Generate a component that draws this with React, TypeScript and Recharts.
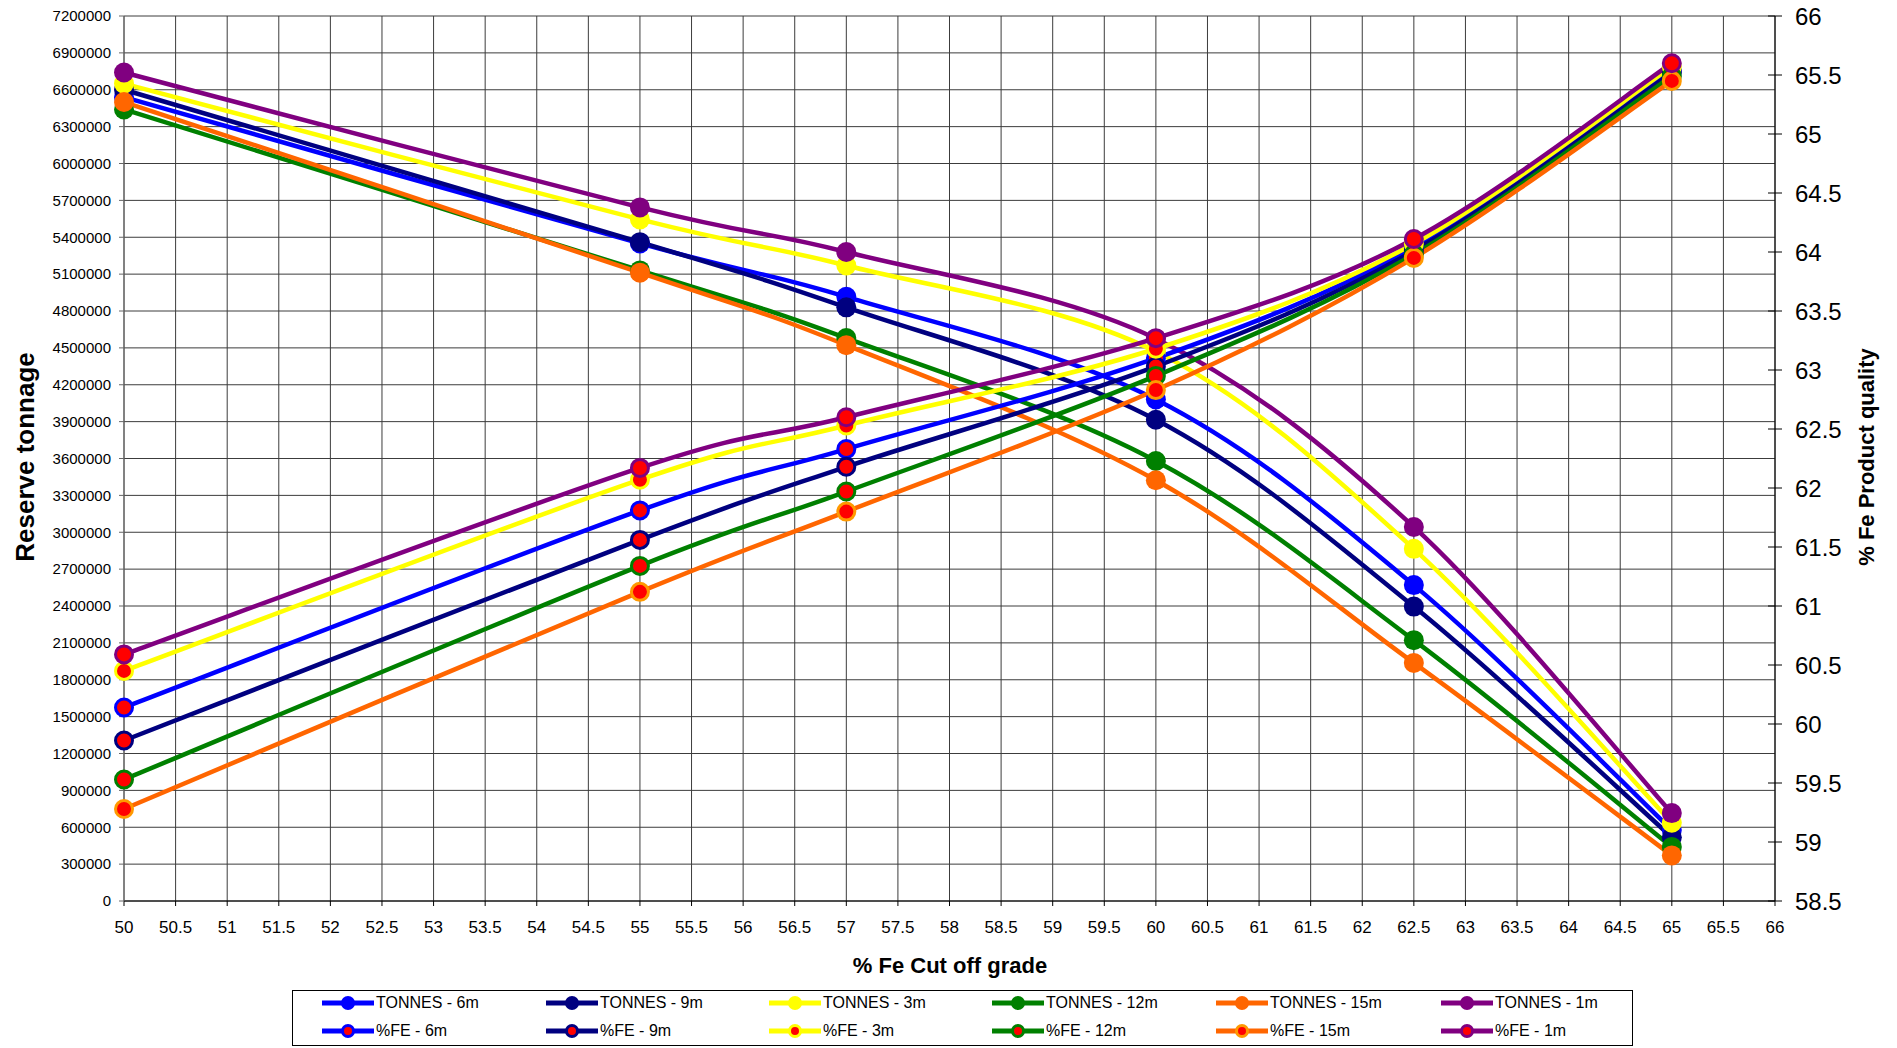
import React from "react";
import { LineChart, Line, XAxis, YAxis, CartesianGrid } from "recharts";

// Cut-off grades (% Fe) at which the reserve was evaluated
const grades = [50, 55, 57, 60, 62.5, 65];

// Reserve tonnage per mining selectivity (left axis)
const tonnes6m = [6540000, 5350000, 4915000, 4080000, 2570000, 577000];
const tonnes9m = [6600000, 5360000, 4830000, 3915000, 2395000, 519000];
const tonnes3m = [6650000, 5545000, 5170000, 4470000, 2865000, 637000];
const tonnes12m = [6440000, 5130000, 4580000, 3580000, 2122000, 440000];
const tonnes15m = [6500000, 5112000, 4522000, 3423000, 1937000, 371000];
const tonnes1m = [6740000, 5643000, 5280000, 4575000, 3043000, 715000];

// Product quality, % Fe (right axis)
const fe6m = [60.14, 61.81, 62.33, 63.1, 64.04, 65.54];
const fe9m = [59.86, 61.56, 62.18, 63.03, 64.01, 65.52];
const fe3m = [60.45, 62.07, 62.53, 63.18, 64.07, 65.57];
const fe12m = [59.53, 61.34, 61.97, 62.95, 63.98, 65.49];
const fe15m = [59.28, 61.12, 61.8, 62.83, 63.95, 65.45];
const fe1m = [60.59, 62.17, 62.6, 63.27, 64.11, 65.6];

// Axis ticks
const xTicks = [
  50, 50.5, 51, 51.5, 52, 52.5, 53, 53.5, 54, 54.5, 55, 55.5, 56, 56.5, 57, 57.5,
  58, 58.5, 59, 59.5, 60, 60.5, 61, 61.5, 62, 62.5, 63, 63.5, 64, 64.5, 65, 65.5, 66,
];
const leftTicks = [
  0, 300000, 600000, 900000, 1200000, 1500000, 1800000, 2100000, 2400000, 2700000,
  3000000, 3300000, 3600000, 3900000, 4200000, 4500000, 4800000, 5100000, 5400000,
  5700000, 6000000, 6300000, 6600000, 6900000, 7200000,
];
const rightTicks = [58.5, 59, 59.5, 60, 60.5, 61, 61.5, 62, 62.5, 63, 63.5, 64, 64.5, 65, 65.5, 66];

const data = grades.map((g, i) => ({
  grade: g,
  t6: tonnes6m[i],
  t9: tonnes9m[i],
  t3: tonnes3m[i],
  t12: tonnes12m[i],
  t15: tonnes15m[i],
  t1: tonnes1m[i],
  f6: fe6m[i],
  f9: fe9m[i],
  f3: fe3m[i],
  f12: fe12m[i],
  f15: fe15m[i],
  f1: fe1m[i],
}));

type SeriesDef = {
  key: string;
  name: string;
  color: string;
  axis: "left" | "right";
  ring?: string;
};

const series: SeriesDef[] = [
  { key: "t6", name: "TONNES - 6m", color: "#0000FF", axis: "left" },
  { key: "t9", name: "TONNES - 9m", color: "#000080", axis: "left" },
  { key: "t3", name: "TONNES - 3m", color: "#FFFF00", axis: "left" },
  { key: "t12", name: "TONNES - 12m", color: "#008000", axis: "left" },
  { key: "t15", name: "TONNES - 15m", color: "#FF6600", axis: "left" },
  { key: "t1", name: "TONNES - 1m", color: "#800080", axis: "left" },
  { key: "f6", name: "%FE - 6m", color: "#0000FF", axis: "right" },
  { key: "f9", name: "%FE - 9m", color: "#000080", axis: "right" },
  { key: "f3", name: "%FE - 3m", color: "#FFFF00", axis: "right" },
  { key: "f12", name: "%FE - 12m", color: "#008000", axis: "right" },
  { key: "f15", name: "%FE - 15m", color: "#FF6600", axis: "right", ring: "#FF9900" },
  { key: "f1", name: "%FE - 1m", color: "#800080", axis: "right" },
];

// Smoothed line: cubic Bezier segments with control points taken
// from neighbouring points (Catmull-Rom style, 1/6 tension).
const smoothCurve: any = (context: any) => {
  let pts: number[][] = [];
  return {
    areaStart() {},
    areaEnd() {},
    lineStart() {
      pts = [];
    },
    point(x: number, y: number) {
      pts.push([+x, +y]);
    },
    lineEnd() {
      const n = pts.length;
      if (!n) return;
      context.moveTo(pts[0][0], pts[0][1]);
      for (let i = 0; i < n - 1; i++) {
        const p0 = pts[Math.max(i - 1, 0)];
        const p1 = pts[i];
        const p2 = pts[i + 1];
        const p3 = pts[Math.min(i + 2, n - 1)];
        context.bezierCurveTo(
          p1[0] + (p2[0] - p0[0]) / 6,
          p1[1] + (p2[1] - p0[1]) / 6,
          p2[0] - (p3[0] - p1[0]) / 6,
          p2[1] - (p3[1] - p1[1]) / 6,
          p2[0],
          p2[1]
        );
      }
    },
  };
};

const FONT = "'Liberation Sans', Arial, sans-serif";

const RIGHT_TICK_SIZE = 7;
const RIGHT_TICK_MARGIN = 13;

// Right-axis tick: tick mark crossing the axis plus its label
const RightTick = (props: any) => {
  const { x, y, payload } = props;
  const axisX = x - RIGHT_TICK_SIZE - RIGHT_TICK_MARGIN;
  return (
    <g>
      <line x1={axisX - 7} x2={axisX} y1={y} y2={y} stroke="#000" strokeWidth={1} />
      <text x={x} y={y} dy="0.36em" textAnchor="start" fontSize={24} fontFamily={FONT} fill="#000">
        {payload.value}
      </text>
    </g>
  );
};

const LegendSwatch = ({ s }: { s: SeriesDef }) => {
  const isFe = s.axis === "right";
  return (
    <svg width={54} height={16} style={{ display: "block" }}>
      <line x1={1} x2={53} y1={8} y2={8} stroke={s.color} strokeWidth={5} />
      {isFe ? (
        <circle cx={27} cy={8} r={5.5} fill="#FF0000" stroke={s.ring || s.color} strokeWidth={3} />
      ) : (
        <circle cx={27} cy={8} r={7} fill={s.color} />
      )}
    </svg>
  );
};

const ChartLegend = () => {
  const colX = [321, 545, 768, 991, 1215, 1440];
  const rowY = [1003, 1031];
  return (
    <div
      style={{
        position: "absolute",
        left: 292,
        top: 990,
        width: 1341,
        height: 56,
        border: "1px solid #000",
        boxSizing: "border-box",
        background: "#fff",
      }}
    >
      {series.map((s, i) => {
        const row = i < 6 ? 0 : 1;
        const col = i % 6;
        return (
          <div
            key={s.key}
            style={{
              position: "absolute",
              left: colX[col] - 292 - 1,
              top: rowY[row] - 990 - 9,
              display: "flex",
              alignItems: "center",
              height: 16,
              fontFamily: FONT,
              fontSize: 16,
              color: "#000",
              whiteSpace: "nowrap",
            }}
          >
            <LegendSwatch s={s} />
            <span style={{ marginLeft: 1 }}>{s.name}</span>
          </div>
        );
      })}
    </div>
  );
};

export default function App() {
  return (
    <div
      style={{
        position: "absolute",
        left: 0,
        top: 0,
        width: 1897,
        height: 1048,
        background: "#fff",
        overflow: "hidden",
      }}
    >
      <LineChart
        width={1897}
        height={1048}
        data={data}
        margin={{ top: 16, right: 0, bottom: 0, left: 0 }}
      >
        <CartesianGrid yAxisId="left" stroke="#3c3c3c" strokeWidth={1} />
        <XAxis
          dataKey="grade"
          type="number"
          domain={[50, 66]}
          ticks={xTicks}
          interval={0}
          height={147}
          tickSize={5}
          tickMargin={15}
          stroke="#000"
          tick={{ fontSize: 17, fontFamily: FONT, fill: "#000" }}
          allowDecimals
        />
        <YAxis
          yAxisId="left"
          orientation="left"
          domain={[0, 7200000]}
          ticks={leftTicks}
          interval={0}
          width={124}
          tickSize={5}
          tickMargin={8}
          stroke="#666"
          tickFormatter={(v: number) => String(v)}
          tick={{ fontSize: 15, fontFamily: FONT, fill: "#000" }}
        />
        <YAxis
          yAxisId="right"
          orientation="right"
          domain={[58.5, 66]}
          ticks={rightTicks}
          interval={0}
          width={122}
          tickSize={RIGHT_TICK_SIZE}
          tickMargin={RIGHT_TICK_MARGIN}
          stroke="#000"
          tick={<RightTick />}
        />
        {series.map((s) => (
          <Line
            key={s.key}
            yAxisId={s.axis}
            dataKey={s.key}
            name={s.name}
            type={smoothCurve}
            stroke={s.color}
            strokeWidth={4.5}
            isAnimationActive={false}
            activeDot={false}
            dot={
              s.axis === "right"
                ? { r: 8.5, fill: "#FF0000", stroke: s.ring || s.color, strokeWidth: 3 }
                : { r: 10, fill: s.color, stroke: "none", strokeWidth: 0 }
            }
          />
        ))}
      </LineChart>

      <svg
        width={1897}
        height={1048}
        style={{ position: "absolute", left: 0, top: 0, pointerEvents: "none" }}
      >
        <text
          transform="translate(25,457) rotate(-90)"
          textAnchor="middle"
          dominantBaseline="central"
          fontFamily={FONT}
          fontWeight="bold"
          fontSize={26}
          fill="#000"
        >
          Reserve tonnage
        </text>
        <text
          transform="translate(1866,457) rotate(-90)"
          textAnchor="middle"
          dominantBaseline="central"
          fontFamily={FONT}
          fontWeight="bold"
          fontSize={22}
          fill="#000"
        >
          % Fe Product quality
        </text>
        <text
          x={950}
          y={965}
          textAnchor="middle"
          dominantBaseline="central"
          fontFamily={FONT}
          fontWeight="bold"
          fontSize={22}
          fill="#000"
        >
          % Fe Cut off grade
        </text>
      </svg>

      <ChartLegend />
    </div>
  );
}
